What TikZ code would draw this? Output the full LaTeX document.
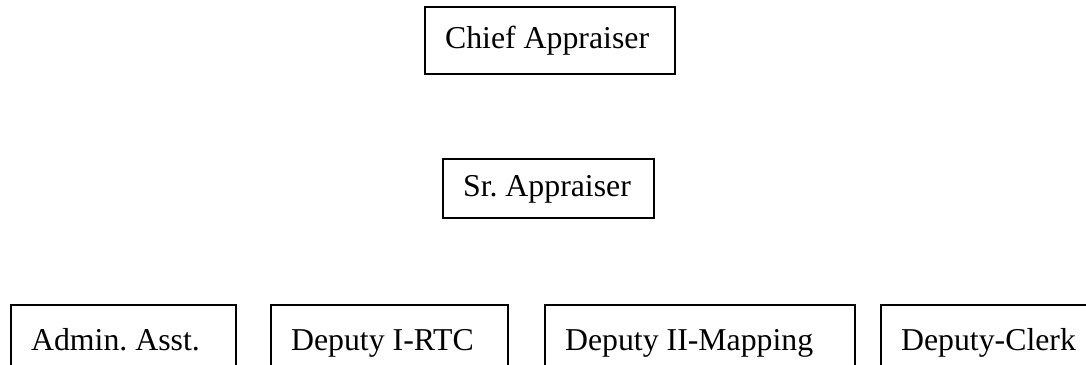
\documentclass[tikz,border=0pt]{standalone}
\usepackage{fontspec}
\setmainfont{Liberation Serif}
\frenchspacing
\newcommand{\lbox}[2]{\hbox to #1pt{#2\hfil}}
\begin{document}
\begin{tikzpicture}[x=1pt,y=-1pt,
  orgbox/.style={draw, line width=2.2pt, anchor=north west, inner xsep=20pt,
    inner ysep=0pt, text height=22pt, text depth=7pt,
    font=\fontsize{31.8}{38}\selectfont}]
\clip (0,0) rectangle (1086,364);
\fill[white] (0,0) rectangle (1086,364);
\node[orgbox, minimum height=67pt] (chief) at (424,6) {\lbox{210}{Chief Appraiser}};
\node[orgbox, minimum height=59pt] (sr) at (442,158) {\lbox{171}{Sr. Appraiser}};
\node[orgbox, minimum height=75pt] (admin) at (10,304) {\lbox{185}{Admin. Asst.}};
\node[orgbox, minimum height=75pt] (dep1) at (270,304) {\lbox{197}{Deputy I-RTC}};
\node[orgbox, minimum height=75pt] (dep2) at (544,304) {\lbox{270}{Deputy II-Mapping}};
\node[orgbox, minimum height=75pt] (clerk) at (880,304) {\lbox{200}{Deputy-Clerk}};
\end{tikzpicture}
\end{document}
